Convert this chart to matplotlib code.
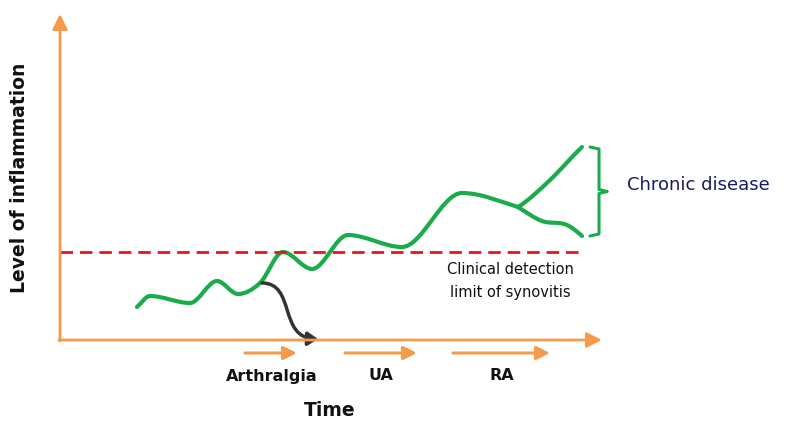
import matplotlib.pyplot as plt
from matplotlib.path import Path
from matplotlib.patches import FancyArrowPatch, PathPatch
import numpy as np

# schematic values: time (x) and inflammation level (y), axis origin at (0, 0)
main_t = [77, 90, 130, 157, 178, 200, 223, 252, 288, 342, 402, 458]
main_lvl = [33, 44, 37, 59, 46, 57, 88, 71, 105, 93, 147, 133]
upper_t = [458, 490, 522]
upper_lvl = [133, 160, 193]
lower_t = [458, 482, 507, 522]
lower_lvl = [133, 119, 115, 104]
# control points of the resolution arrow (cubic Bezier)
black_t = [202, 236, 218, 258]
black_lvl = [57, 57, 2, 1]

detection_limit = 88
phase_names = ["Arthralgia", "UA", "RA"]
phase_start = [185, 285, 393]
phase_end = [237, 357, 490]

GREEN = "#1aac4a"
ORANGE = "#f59a4a"
RED = "#e8141c"


def smooth_path(xs, ys, end_slopes=None):
    # cubic Hermite through the points, flat at local peaks and troughs
    x = np.asarray(xs, float)
    y = np.asarray(ys, float)
    sec = np.diff(y) / np.diff(x)
    m = np.empty_like(x)
    m[0], m[-1] = sec[0], sec[-1]
    for i in range(1, len(x) - 1):
        m[i] = 0.0 if sec[i - 1] * sec[i] <= 0 else (sec[i - 1] + sec[i]) / 2
    if end_slopes is not None:
        if end_slopes[0] is not None:
            m[0] = end_slopes[0]
        if end_slopes[1] is not None:
            m[-1] = end_slopes[1]
    verts = [(x[0], y[0])]
    codes = [Path.MOVETO]
    for i in range(len(x) - 1):
        h = (x[i + 1] - x[i]) / 3
        verts += [(x[i] + h, y[i] + m[i] * h),
                  (x[i + 1] - h, y[i + 1] - m[i + 1] * h),
                  (x[i + 1], y[i + 1])]
        codes += [Path.CURVE4] * 3
    return Path(verts, codes)


fig = plt.figure(figsize=(8, 4.33), dpi=100)
ax = fig.add_axes([0, 0, 1, 1])
ax.set_xlim(-60, 740)
ax.set_ylim(-93, 340)
ax.axis("off")

# axes arrows
ax.annotate("", xy=(0, 326), xytext=(0, -1),
            arrowprops=dict(arrowstyle="-|>,head_length=0.9,head_width=0.45",
                            color=ORANGE, lw=2, shrinkA=0, shrinkB=0))
ax.annotate("", xy=(542, 0), xytext=(-1, 0),
            arrowprops=dict(arrowstyle="-|>,head_length=0.9,head_width=0.45",
                            color=ORANGE, lw=2, shrinkA=0, shrinkB=0))

# clinical detection limit
ax.plot([0, 522], [detection_limit, detection_limit], color=RED, lw=2,
        dashes=(4.5, 2.5))
ax.text(450, 70, "Clinical detection", ha="center", va="center",
        fontsize=10.5, color="#111111")
ax.text(450, 47, "limit of synovitis", ha="center", va="center",
        fontsize=10.5, color="#111111")

# inflammation curves
branch_slope = -0.3
curves = [(main_t, main_lvl, (None, branch_slope)),
          (upper_t, upper_lvl, (0.6, 0.95)),
          (lower_t, lower_lvl, (-0.65, -0.9))]
for xs, ys, ends in curves:
    ax.add_patch(PathPatch(smooth_path(xs, ys, ends), fill=False,
                           edgecolor=GREEN, lw=3, capstyle="round",
                           joinstyle="round"))

# resolution arrow
black_path = Path(np.column_stack([black_t, black_lvl]),
                  [Path.MOVETO, Path.CURVE4, Path.CURVE4, Path.CURVE4])
ax.add_patch(FancyArrowPatch(path=black_path,
                             arrowstyle="-|>,head_length=6,head_width=4",
                             color="#333333", lw=2.5))

# chronic disease bracket
bx = 530
top, bot = upper_lvl[-1], lower_lvl[-1]
mid = (top + bot) / 2
ax.plot([bx, bx + 9, bx + 9, bx + 17], [top, top - 2, mid + 2, mid], color=GREEN,
        lw=2.2, solid_capstyle="round", solid_joinstyle="round")
ax.plot([bx, bx + 9, bx + 9, bx + 17], [bot, bot + 2, mid - 2, mid], color=GREEN,
        lw=2.2, solid_capstyle="round", solid_joinstyle="round")
ax.text(567, mid + 6, "Chronic disease", ha="left", va="center", fontsize=13,
        color="#1c1a5c")

# phases along time axis
for name, s, e in zip(phase_names, phase_start, phase_end):
    ax.annotate("", xy=(e, -13), xytext=(s, -13),
                arrowprops=dict(arrowstyle="-|>,head_length=0.8,head_width=0.4",
                                color=ORANGE, lw=2.2, shrinkA=0, shrinkB=0))
    ax.text((s + e) / 2 if name != "Arthralgia" else 212, -36, name,
            ha="center", va="center", fontsize=11.5, fontweight="bold",
            color="#111111")

ax.text(270, -70, "Time", ha="center", va="center", fontsize=13.5,
        fontweight="bold", color="#111111")
ax.text(-40, 162, "Level of inflammation", ha="center", va="center",
        rotation=90, fontsize=13.5, fontweight="bold", color="#111111")

fig.savefig("out.png", dpi=100)
